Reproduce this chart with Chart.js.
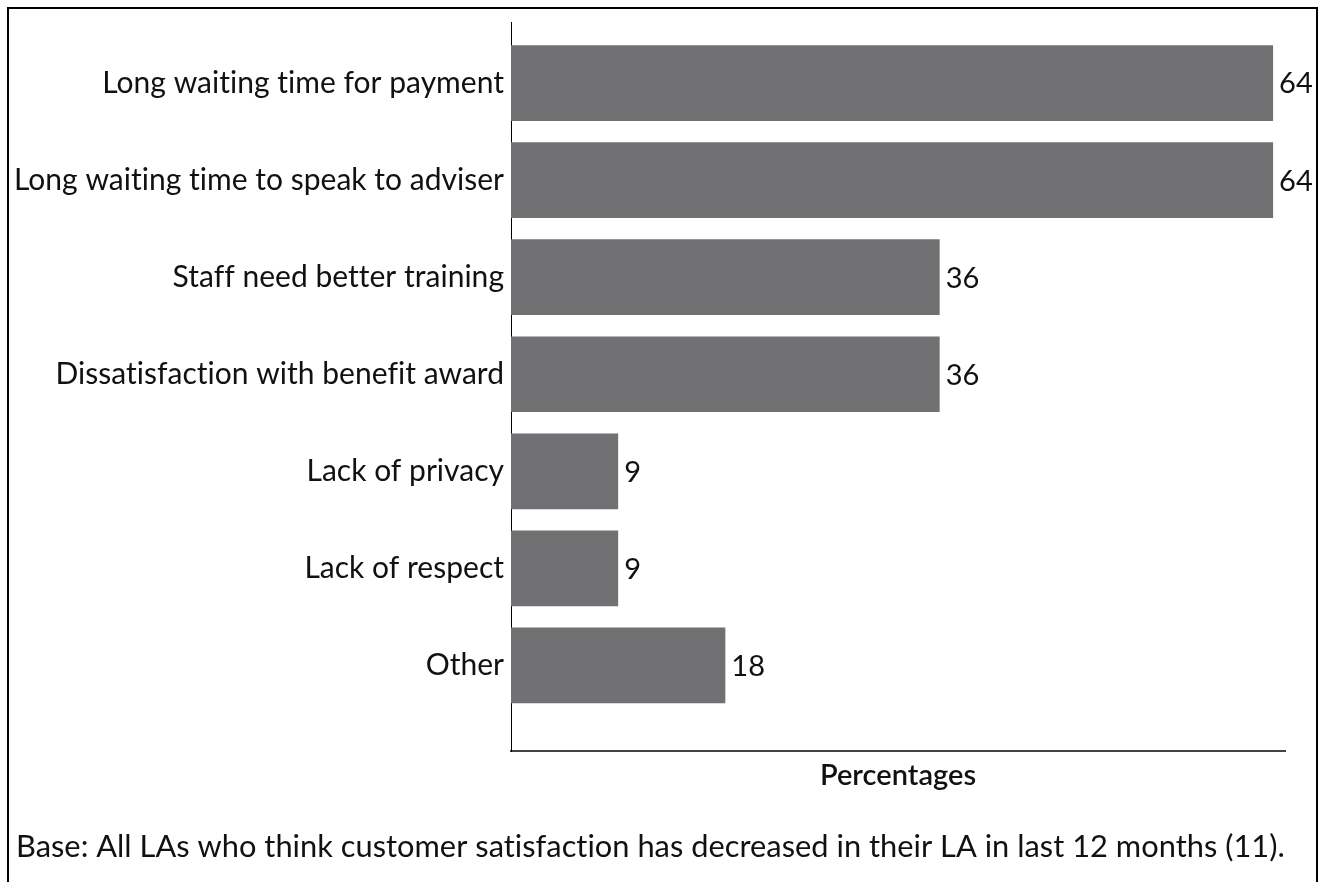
<!DOCTYPE html>
<html lang="en">
<head>
    <meta charset="UTF-8">
    <title>Reasons for decreased customer satisfaction</title>
    <script src="https://cdn.jsdelivr.net/npm/chart.js@4"></script>
    <style>
        html, body {
            margin: 0;
            padding: 0;
            background: #fff;
        }
        .frame {
            position: absolute;
            left: 7px;
            top: 7px;
            width: 1311px;
            height: 1000px;
            box-sizing: border-box;
            border: 2px solid #000;
            pointer-events: none;
        }
        #chartWrap {
            position: absolute;
            left: 0;
            top: 0;
            width: 1322px;
            height: 882px;
        }
    </style>
</head>
<body>
    <div id="chartWrap"><canvas id="reasonsChart"></canvas></div>
    <div class="frame"></div>

    <script>
        const categories = [
            'Long waiting time for payment',
            'Long waiting time to speak to adviser',
            'Staff need better training',
            'Dissatisfaction with benefit award',
            'Lack of privacy',
            'Lack of respect',
            'Other'
        ];
        const percentages = [64, 64, 36, 36, 9, 9, 18];
        const axisTitle = 'Percentages';
        const baseNote = 'Base: All LAs who think customer satisfaction has decreased in their LA in last 12 months (11).';

        const FONT = 'Lato, "Open Sans", sans-serif';

        // a hair of letter spacing keeps Lato from joining "ti"/"fi" into ligatures
        const noLigatures = {
            id: 'noLigatures',
            beforeInit(chart) {
                chart.ctx.letterSpacing = '0.02px';
            },
            beforeDraw(chart) {
                chart.ctx.letterSpacing = '0.02px';
            }
        };

        // prints the percentage just past the end of each bar
        const valueLabels = {
            id: 'valueLabels',
            afterDatasetsDraw(chart) {
                const ctx = chart.ctx;
                const meta = chart.getDatasetMeta(0);
                ctx.save();
                ctx.font = '29px ' + FONT;
                ctx.fillStyle = '#111';
                ctx.textAlign = 'left';
                ctx.textBaseline = 'middle';
                meta.data.forEach((bar, i) => {
                    ctx.fillText(String(percentages[i]), bar.x + 6, bar.y + 1);
                });
                ctx.restore();
            }
        };

        const ctx = document.getElementById('reasonsChart').getContext('2d');
        new Chart(ctx, {
            type: 'bar',
            data: {
                datasets: [{
                    data: percentages.map((v, i) => ({ x: v, y: i })),
                    backgroundColor: '#717173',
                    borderWidth: 0,
                    barPercentage: 0.78,
                    categoryPercentage: 1
                }]
            },
            options: {
                indexAxis: 'y',
                responsive: true,
                maintainAspectRatio: false,
                animation: false,
                layout: {
                    padding: { top: 22, right: 37, left: 16, bottom: 0 }
                },
                plugins: {
                    legend: { display: false },
                    tooltip: { enabled: false },
                    title: {
                        display: true,
                        text: baseNote,
                        position: 'bottom',
                        align: 'start',
                        color: '#111',
                        font: { family: FONT, size: 30.8, weight: 'normal' },
                        padding: { top: 0, bottom: 16 }
                    }
                },
                scales: {
                    x: {
                        type: 'linear',
                        min: 0,
                        max: 65,
                        grid: { display: false, drawTicks: false },
                        border: { display: true, color: '#444', width: 2 },
                        ticks: { display: false },
                        title: {
                            display: true,
                            text: axisTitle,
                            color: '#111',
                            font: { family: FONT, size: 29, weight: '600' },
                            padding: { top: 7, bottom: 36 }
                        }
                    },
                    y: {
                        type: 'linear',
                        reverse: true,
                        offset: false,
                        min: -0.63,
                        max: 6.885,
                        grid: { display: false, drawTicks: false },
                        border: { display: true, color: '#000', width: 1 },
                        afterBuildTicks: axis => {
                            axis.ticks = categories.map((c, i) => ({ value: i }));
                        },
                        afterFit: scale => {
                            // labels sit well inside the axis, so no extra room above/below
                            scale.width = 495;
                            scale.paddingTop = 0;
                            scale.paddingBottom = 0;
                        },
                        ticks: {
                            padding: 7,
                            autoSkip: false,
                            color: '#111',
                            font: { family: FONT, size: 30 },
                            callback: value => categories[value] || ''
                        }
                    }
                }
            },
            plugins: [noLigatures, valueLabels]
        });
    </script>
</body>
</html>
